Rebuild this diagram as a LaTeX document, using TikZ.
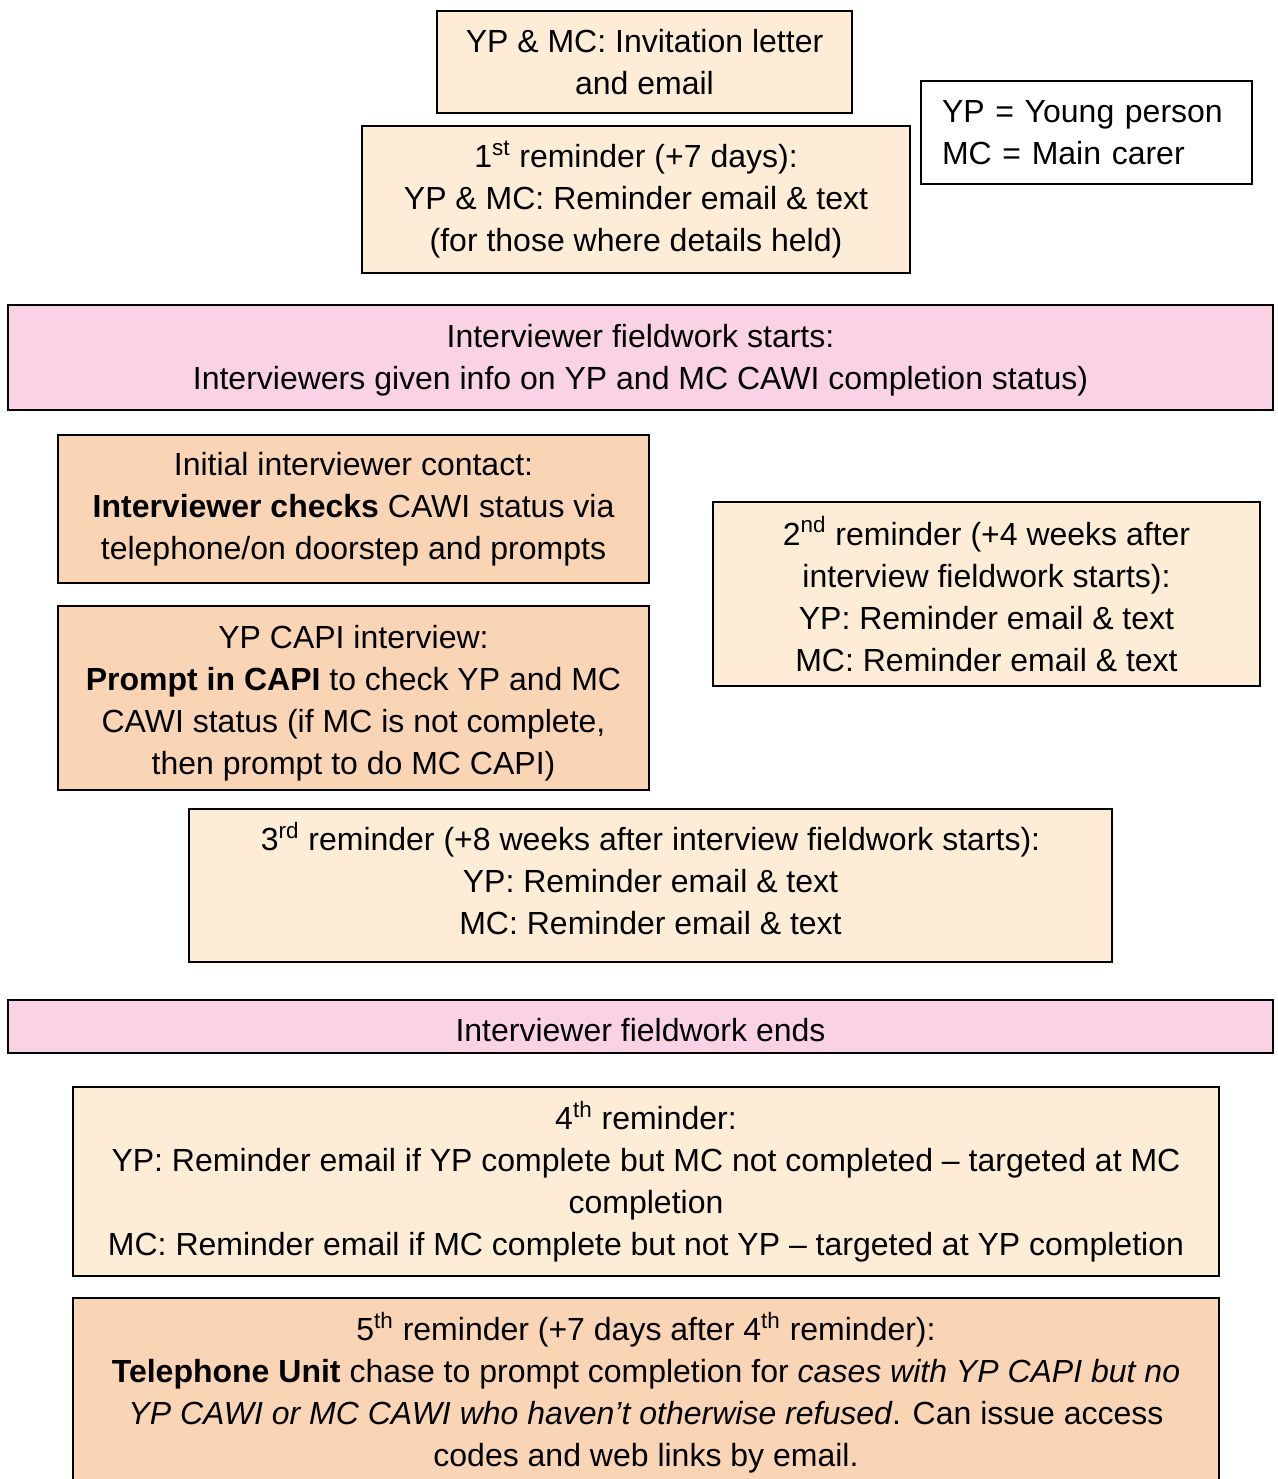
\documentclass[tikz,border=0pt]{standalone}
\usepackage{fontspec}
\setmainfont{Liberation Sans}
\definecolor{cream}{RGB}{253,236,214}
\definecolor{peach}{RGB}{250,213,181}
\definecolor{pinkbar}{RGB}{250,210,230}
\begin{document}
\begin{tikzpicture}[x=0.5pt,y=-0.5pt,
  txt/.style={inner sep=0pt,align=center,font=\fontsize{16}{21}\selectfont},
  box/.style={draw=black,line width=1pt,txt},
  cbox/.style={box,fill=cream},
  pbox/.style={box,fill=peach},
  kbox/.style={box,fill=pinkbar}]
\useasboundingbox (0,0) rectangle (1278,1479);
\begin{scope}
\clip (0,0) rectangle (1278,1479);
\node[cbox,minimum width=207.5pt,minimum height=51pt] (inv) at (644.5,62)
  {YP \& MC: Invitation letter\\and email};
\node[cbox,minimum width=274pt,minimum height=73.5pt] (r1) at (636,199.5)
  {1\textsuperscript{st} reminder (+7 days):\\YP \& MC: Reminder email \& text\\(for those where details held)};
\node[box,fill=white,minimum width=165.5pt,minimum height=51.5pt,text width=144.5pt,align=left] (leg) at (1086.5,132.5)
  {YP = Young person\\MC = Main carer};
\node[kbox,minimum width=632.5pt,minimum height=52.5pt,
  label={[txt,yshift=-1.5pt]center:Interviewer fieldwork starts:\\Interviewers given info on YP and MC CAWI completion status)}] (start) at (640.5,357.5) {};
\node[pbox,minimum width=295.5pt,minimum height=74pt] (init) at (353.5,509)
  {Initial interviewer contact:\\\textbf{Interviewer checks} CAWI status via\\telephone/on doorstep and prompts};
\node[pbox,minimum width=295.5pt,minimum height=92pt,
  label={[txt,yshift=-2.5pt]center:YP CAPI interview:\\\textbf{Prompt in CAPI} to check YP and MC\\CAWI status (if MC is not complete,\\then prompt to do MC CAPI)}] (capi) at (353.5,698) {};
\node[cbox,minimum width=273.5pt,minimum height=92pt] (r2) at (986.5,594)
  {2\textsuperscript{nd} reminder (+4 weeks after\\interview fieldwork starts):\\YP: Reminder email \& text\\MC: Reminder email \& text};
\node[cbox,minimum width=461.5pt,minimum height=76.5pt,
  label={[txt,yshift=3.5pt]center:3\textsuperscript{rd} reminder (+8 weeks after interview fieldwork starts):\\YP: Reminder email \& text\\MC: Reminder email \& text}] (r3) at (650.5,885.5) {};
\node[kbox,minimum width=632.5pt,minimum height=26.5pt,
  label={[txt,yshift=-2pt]center:Interviewer fieldwork ends}] (end) at (640.5,1026.5) {};
\node[cbox,minimum width=573pt,minimum height=94.5pt] (r4) at (646,1181.5)
  {4\textsuperscript{th} reminder:\\YP: Reminder email if YP complete but MC not completed -- targeted at MC\\completion\\MC: Reminder email if MC complete but not YP -- targeted at YP completion};
\node[pbox,minimum width=573pt,minimum height=94.5pt] (r5) at (646,1392.5)
  {5\textsuperscript{th} reminder (+7 days after 4\textsuperscript{th} reminder):\\\textbf{Telephone Unit} chase to prompt completion for \textit{cases with YP CAPI but no}\\\textit{YP CAWI or MC CAWI who haven’t otherwise refused}. Can issue access\\codes and web links by email.};
\end{scope}
\end{tikzpicture}
\end{document}
